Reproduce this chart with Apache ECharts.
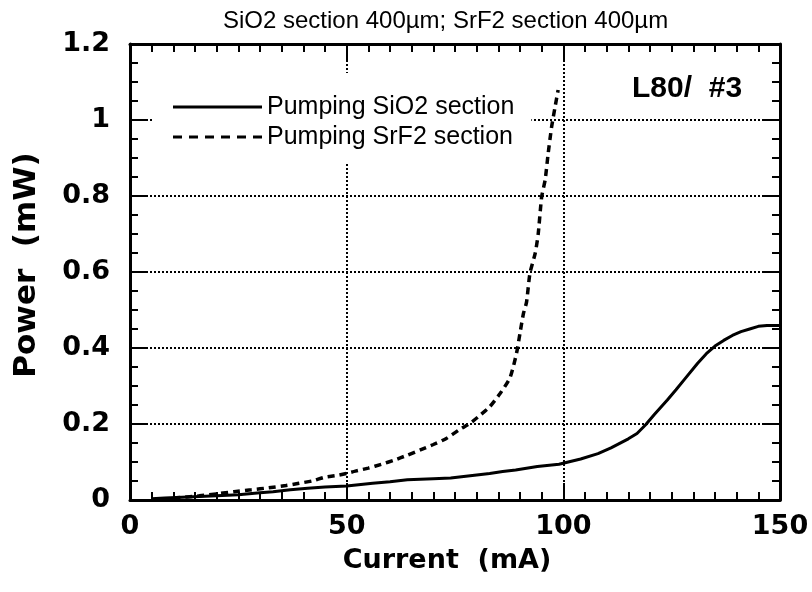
<!DOCTYPE html>
<html><head><meta charset="utf-8">
<script src="https://cdn.jsdelivr.net/npm/echarts@6/dist/echarts.min.js"></script>
<style>html,body{margin:0;padding:0;background:#fff}#c{width:812px;height:592px}</style>
</head><body><div id="c"></div>
<script>
const chartTitle = 'SiO2 section 400µm; SrF2 section 400µm';
const annotation = 'L80/  #3';
const seriesNames = ['Pumping SiO2 section', 'Pumping SrF2 section'];
const xName = 'Current  (mA)';
const yName = 'Power  (mW)';

const sio2Current = [5, 8, 12, 16, 20, 25, 30, 33, 37, 41, 45, 50, 56, 60, 64, 70, 74, 80, 83, 86, 89, 94, 99, 104, 108, 111, 113, 115, 117, 119, 121, 124, 126, 128, 131, 133, 135, 137, 139, 141, 143, 145, 147, 150];
const sio2Power = [0.003, 0.005, 0.007, 0.009, 0.011, 0.014, 0.019, 0.022, 0.027, 0.031, 0.034, 0.037, 0.044, 0.048, 0.053, 0.056, 0.058, 0.066, 0.070, 0.075, 0.079, 0.088, 0.094, 0.108, 0.122, 0.137, 0.149, 0.161, 0.175, 0.198, 0.225, 0.263, 0.29, 0.318, 0.36, 0.385, 0.405, 0.42, 0.433, 0.443, 0.45, 0.457, 0.459, 0.459];

const srf2Current = [10, 16, 20, 24, 28, 32, 36, 39, 42, 45, 48, 50, 52, 55, 58, 61, 64, 67, 70, 73, 76, 78.5, 81, 83, 85.4, 87.7, 89.2, 90, 90.8, 91.5, 92.3, 93.5, 94.2, 95, 95.8, 96.5, 97.3, 98.1, 98.8];
const srf2Power = [0.005, 0.011, 0.016, 0.022, 0.027, 0.032, 0.038, 0.044, 0.05, 0.06, 0.065, 0.07, 0.076, 0.084, 0.094, 0.105, 0.118, 0.132, 0.146, 0.162, 0.185, 0.202, 0.225, 0.245, 0.28, 0.322, 0.386, 0.439, 0.491, 0.52, 0.597, 0.649, 0.70, 0.798, 0.842, 0.912, 0.982, 1.035, 1.079];

const pair = (xs, ys) => xs.map((x, i) => [x, ys[i]]);

const chart = echarts.init(document.getElementById('c'), null, {renderer: 'canvas'});
const tickFont = {fontFamily: 'DejaVu Sans', fontWeight: 'bold', fontSize: 27, color: '#000'};
const axisLine = {show: true, onZero: false, lineStyle: {color: '#000', width: 3}};
const axisTick = {show: true, inside: true, length: 17, lineStyle: {color: '#000', width: 2}};
const xMinor = {show: true, splitNumber: 10, length: 8, lineStyle: {color: '#000', width: 2}};
const yMinor = {show: true, splitNumber: 4, length: 8, lineStyle: {color: '#000', width: 2}};
const gridLine = {show: true, lineStyle: {color: '#000', width: 2, type: [2, 2]}};

const solidIcon = 'rect';
const dashedIcon = 'path://M0,0h9v3h-9zM16,0h9v3h-9zM32,0h9v3h-9zM48,0h9v3h-9zM64,0h9v3h-9zM80,0h9v3h-9z';

chart.setOption({
  animation: false,
  backgroundColor: '#fff',
  title: {
    text: chartTitle, left: 218, top: 4,
    textStyle: {fontFamily: 'Liberation Sans', fontWeight: 'normal', fontSize: 24, color: '#000'}
  },
  grid: {left: 130, right: 32, top: 44, bottom: 92, containLabel: false},
  legend: {
    orient: 'vertical', left: 153, top: 73,
    padding: [19, 17, 10, 20],
    backgroundColor: '#fff',
    itemWidth: 89, itemHeight: 3, itemGap: 0,
    itemStyle: {color: '#000'},
    textStyle: {fontFamily: 'Liberation Sans', fontSize: 25, color: '#000', lineHeight: 30},
    data: [{name: seriesNames[0], icon: solidIcon}, {name: seriesNames[1], icon: dashedIcon}]
  },
  graphic: [{
    type: 'text', left: 632, top: 74,
    style: {text: annotation, fontFamily: 'Liberation Sans', fontWeight: 'bold', fontSize: 30, fill: '#000'}
  }],
  xAxis: [
    {
      type: 'value', min: 0, max: 150, interval: 50, position: 'bottom',
      name: xName, nameLocation: 'middle', nameGap: 47,
      nameTextStyle: {fontFamily: 'DejaVu Sans', fontWeight: 'bold', fontSize: 27, color: '#000', padding: [0, 16, 0, 0]},
      axisLabel: Object.assign({margin: 13}, tickFont),
      axisLine: axisLine, axisTick: axisTick, minorTick: xMinor,
      splitLine: gridLine
    },
    {
      type: 'value', min: 0, max: 150, interval: 50, position: 'top',
      axisLine: axisLine, axisTick: axisTick, minorTick: xMinor,
      axisLabel: {show: false}, splitLine: {show: false}
    }
  ],
  yAxis: [
    {
      type: 'value', min: 0, max: 1.2, interval: 0.2, position: 'left',
      name: yName, nameLocation: 'middle', nameGap: 88,
      nameTextStyle: {fontFamily: 'DejaVu Sans', fontWeight: 'bold', fontSize: 31, color: '#000', padding: [0, 0, 0, 14]},
      axisLabel: Object.assign({margin: 20}, tickFont),
      axisLine: axisLine, axisTick: axisTick, minorTick: yMinor,
      splitLine: gridLine
    },
    {
      type: 'value', min: 0, max: 1.2, interval: 0.2, position: 'right',
      axisLine: axisLine, axisTick: axisTick, minorTick: yMinor,
      axisLabel: {show: false}, splitLine: {show: false}
    }
  ],
  series: [
    {
      name: seriesNames[0], type: 'line', xAxisIndex: 0, yAxisIndex: 0,
      data: pair(sio2Current, sio2Power), symbol: 'none', smooth: false,
      lineStyle: {color: '#000', width: 3, type: 'solid'}, itemStyle: {color: '#000'}, z: 3
    },
    {
      name: seriesNames[1], type: 'line', xAxisIndex: 0, yAxisIndex: 0,
      data: pair(srf2Current, srf2Power), symbol: 'none', smooth: 0.2,
      lineStyle: {color: '#000', width: 3.5, type: [7, 5]}, itemStyle: {color: '#000'}, z: 3
    }
  ]
});
</script></body></html>
